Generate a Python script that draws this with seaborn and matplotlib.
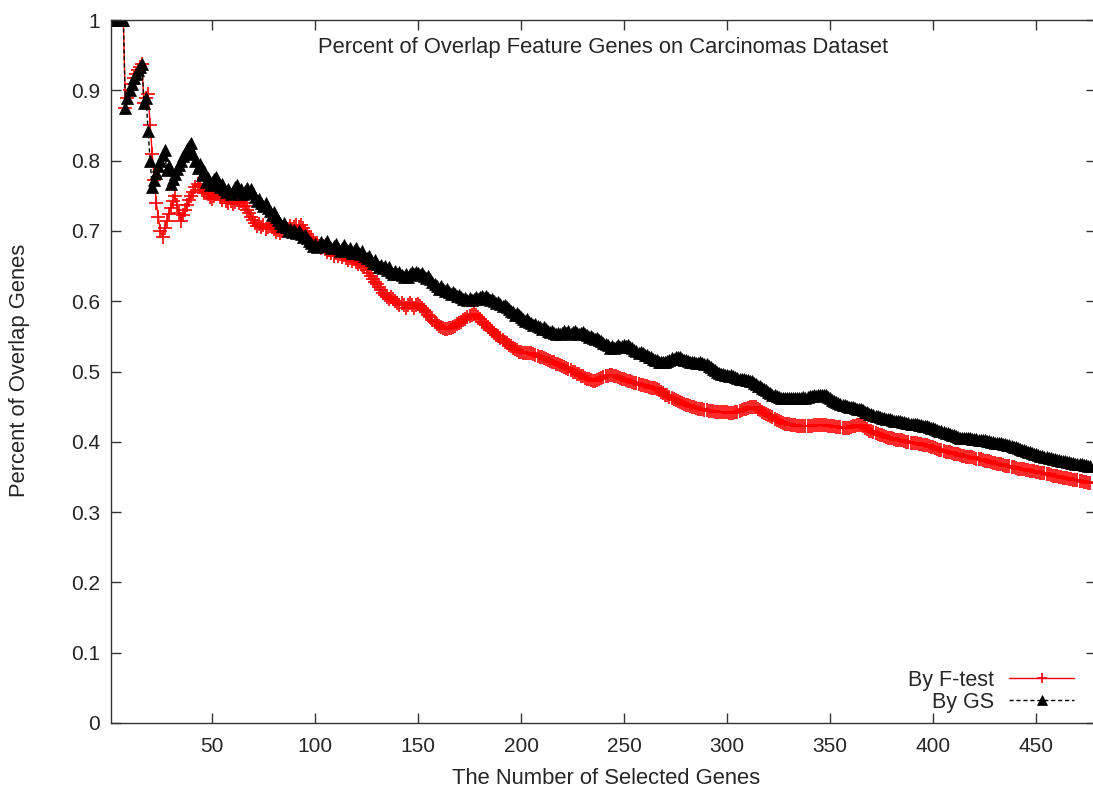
import numpy as np
import matplotlib
matplotlib.use("Agg")
import matplotlib.pyplot as plt
import seaborn as sns

title = "Percent of Overlap Feature Genes on Carcinomas Dataset"
xlabel = "The Number of Selected Genes"
ylabel = "Percent of Overlap Genes"
label_ft = "By F-test"
label_gs = "By GS"
xticks = [50, 100, 150, 200, 250, 300, 350, 400, 450]
yticks = [0, 0.1, 0.2, 0.3, 0.4, 0.5, 0.6, 0.7, 0.8, 0.9, 1]
ytick_labels = ["0", "0.1", "0.2", "0.3", "0.4", "0.5", "0.6", "0.7", "0.8", "0.9", "1"]

# By GS, overlap fraction for n = 1, 2, 3, ...
gs = [
    1, 1, 1, 1, 1, 1, 1, 0.875, 0.889, 0.9,
    0.909, 0.917, 0.923, 0.929, 0.933, 0.938, 0.882, 0.889, 0.842, 0.8,
    0.762, 0.773, 0.783, 0.792, 0.8, 0.808, 0.815, 0.786, 0.793, 0.767,
    0.774, 0.781, 0.788, 0.794, 0.8, 0.806, 0.811, 0.816, 0.821, 0.825,
    0.81, 0.8, 0.79, 0.795, 0.78, 0.785, 0.77, 0.775, 0.765, 0.77,
    0.774, 0.777, 0.77, 0.762, 0.767, 0.759, 0.755, 0.76, 0.752, 0.757,
    0.762, 0.766, 0.756, 0.76, 0.752, 0.757, 0.761, 0.755, 0.759, 0.754,
    0.748, 0.742, 0.746, 0.74, 0.735, 0.739, 0.733, 0.728, 0.723, 0.727,
    0.72, 0.716, 0.711, 0.707, 0.711, 0.705, 0.7, 0.703, 0.698, 0.701,
    0.697, 0.7, 0.695, 0.691, 0.694, 0.69, 0.686, 0.683, 0.679, 0.682,
    0.677, 0.68, 0.684, 0.678, 0.681, 0.685, 0.679, 0.675, 0.678, 0.682,
    0.676, 0.672, 0.676, 0.68, 0.674, 0.671, 0.675, 0.669, 0.672, 0.676,
    0.67, 0.667, 0.671, 0.665, 0.661, 0.665, 0.659, 0.655, 0.659, 0.653,
    0.649, 0.652, 0.647, 0.65, 0.645, 0.648, 0.642, 0.639, 0.643, 0.638,
    0.642, 0.637, 0.634, 0.638, 0.635, 0.639, 0.641, 0.638, 0.642, 0.64,
    0.637, 0.64, 0.636, 0.633, 0.636, 0.632, 0.628, 0.625, 0.621, 0.618,
    0.621, 0.617, 0.614, 0.617, 0.613, 0.61, 0.613, 0.61, 0.607, 0.609,
    0.606, 0.603, 0.605, 0.602, 0.604, 0.601, 0.603, 0.606, 0.603, 0.606,
    0.608, 0.605, 0.607, 0.604, 0.601, 0.603, 0.6, 0.597, 0.599, 0.596,
    0.593, 0.595, 0.592, 0.589, 0.586, 0.584, 0.581, 0.583, 0.58, 0.577,
    0.575, 0.572, 0.574, 0.571, 0.569, 0.566, 0.568, 0.565, 0.563, 0.561,
    0.563, 0.56, 0.558, 0.556, 0.558, 0.555, 0.553, 0.555, 0.553, 0.555,
    0.557, 0.555, 0.557, 0.554, 0.556, 0.558, 0.555, 0.553, 0.555, 0.556,
    0.554, 0.552, 0.549, 0.551, 0.548, 0.546, 0.548, 0.545, 0.543, 0.541,
    0.539, 0.537, 0.534, 0.536, 0.533, 0.535, 0.537, 0.535, 0.536, 0.538,
    0.536, 0.537, 0.535, 0.533, 0.531, 0.529, 0.527, 0.528, 0.526, 0.524,
    0.523, 0.521, 0.52, 0.518, 0.517, 0.516, 0.514, 0.513, 0.513, 0.514,
    0.515, 0.517, 0.519, 0.518, 0.52, 0.521, 0.52, 0.518, 0.517, 0.516,
    0.515, 0.514, 0.514, 0.513, 0.512, 0.512, 0.513, 0.512, 0.511, 0.51,
    0.508, 0.506, 0.504, 0.502, 0.5, 0.498, 0.497, 0.496, 0.495, 0.495,
    0.494, 0.495, 0.493, 0.492, 0.491, 0.49, 0.49, 0.489, 0.488, 0.488,
    0.487, 0.486, 0.484, 0.482, 0.48, 0.479, 0.477, 0.475, 0.473, 0.471,
    0.469, 0.467, 0.466, 0.465, 0.464, 0.463, 0.463, 0.462, 0.462, 0.462,
    0.462, 0.462, 0.463, 0.463, 0.462, 0.463, 0.464, 0.463, 0.464, 0.465,
    0.465, 0.466, 0.465, 0.466, 0.467, 0.466, 0.467, 0.466, 0.464, 0.462,
    0.46, 0.458, 0.457, 0.455, 0.454, 0.453, 0.452, 0.451, 0.45, 0.449,
    0.449, 0.448, 0.447, 0.446, 0.446, 0.445, 0.443, 0.442, 0.44, 0.439,
    0.438, 0.437, 0.436, 0.435, 0.434, 0.434, 0.433, 0.432, 0.432, 0.431,
    0.43, 0.43, 0.429, 0.429, 0.428, 0.428, 0.427, 0.427, 0.426, 0.426,
    0.425, 0.425, 0.424, 0.424, 0.423, 0.423, 0.422, 0.421, 0.42, 0.419,
    0.418, 0.417, 0.416, 0.415, 0.414, 0.413, 0.412, 0.411, 0.41, 0.409,
    0.408, 0.407, 0.406, 0.406, 0.406, 0.405, 0.405, 0.405, 0.404, 0.404,
    0.404, 0.403, 0.403, 0.402, 0.402, 0.401, 0.401, 0.4, 0.4, 0.399,
    0.399, 0.398, 0.398, 0.397, 0.397, 0.396, 0.395, 0.394, 0.393, 0.392,
    0.391, 0.39, 0.389, 0.388, 0.387, 0.386, 0.385, 0.384, 0.383, 0.382,
    0.381, 0.38, 0.38, 0.379, 0.378, 0.377, 0.377, 0.376, 0.375, 0.374,
    0.374, 0.373, 0.372, 0.372, 0.371, 0.371, 0.37, 0.37, 0.369, 0.369,
    0.368, 0.368, 0.367, 0.367, 0.366, 0.366,
]

# By F-test, overlap fraction for n = 1, 2, 3, ...
ft = [
    1, 1, 1, 1, 1, 1, 1, 0.875, 0.889, 0.9,
    0.909, 0.917, 0.923, 0.929, 0.933, 0.938, 0.882, 0.889, 0.895, 0.85,
    0.81, 0.773, 0.739, 0.72, 0.7, 0.692, 0.704, 0.714, 0.724, 0.733,
    0.742, 0.75, 0.737, 0.725, 0.714, 0.722, 0.73, 0.737, 0.744, 0.75,
    0.756, 0.762, 0.767, 0.764, 0.758, 0.754, 0.757, 0.752, 0.748, 0.745,
    0.75, 0.752, 0.755, 0.748, 0.744, 0.748, 0.742, 0.739, 0.742, 0.738,
    0.741, 0.744, 0.74, 0.743, 0.739, 0.735, 0.73, 0.726, 0.72, 0.716,
    0.711, 0.707, 0.71, 0.705, 0.708, 0.703, 0.706, 0.71, 0.706, 0.702,
    0.698, 0.701, 0.697, 0.7, 0.704, 0.7, 0.703, 0.707, 0.703, 0.706,
    0.709, 0.705, 0.708, 0.704, 0.7, 0.696, 0.692, 0.688, 0.684, 0.68,
    0.683, 0.679, 0.675, 0.678, 0.674, 0.67, 0.673, 0.669, 0.665, 0.668,
    0.664, 0.667, 0.663, 0.666, 0.662, 0.658, 0.661, 0.657, 0.66, 0.656,
    0.653, 0.656, 0.652, 0.648, 0.644, 0.64, 0.636, 0.632, 0.628, 0.624,
    0.62, 0.616, 0.612, 0.609, 0.606, 0.603, 0.606, 0.603, 0.6, 0.597,
    0.594, 0.597, 0.594, 0.591, 0.594, 0.597, 0.594, 0.591, 0.594, 0.596,
    0.593, 0.59, 0.587, 0.584, 0.58, 0.577, 0.573, 0.57, 0.567, 0.565,
    0.563, 0.562, 0.561, 0.561, 0.562, 0.562, 0.563, 0.565, 0.567, 0.569,
    0.571, 0.573, 0.575, 0.577, 0.579, 0.581, 0.582, 0.58, 0.577, 0.574,
    0.571, 0.568, 0.566, 0.563, 0.56, 0.558, 0.555, 0.552, 0.55, 0.547,
    0.545, 0.542, 0.54, 0.538, 0.536, 0.534, 0.532, 0.53, 0.528, 0.528,
    0.527, 0.527, 0.526, 0.526, 0.526, 0.525, 0.524, 0.522, 0.521, 0.52,
    0.519, 0.518, 0.516, 0.515, 0.514, 0.513, 0.511, 0.51, 0.509, 0.508,
    0.506, 0.505, 0.503, 0.502, 0.5, 0.499, 0.497, 0.496, 0.494, 0.493,
    0.491, 0.49, 0.489, 0.488, 0.487, 0.487, 0.488, 0.489, 0.491, 0.492,
    0.493, 0.494, 0.495, 0.495, 0.494, 0.493, 0.492, 0.491, 0.49, 0.489,
    0.488, 0.487, 0.486, 0.485, 0.484, 0.483, 0.482, 0.481, 0.481, 0.48,
    0.479, 0.478, 0.477, 0.477, 0.476, 0.475, 0.473, 0.471, 0.469, 0.467,
    0.466, 0.464, 0.463, 0.461, 0.46, 0.458, 0.457, 0.455, 0.454, 0.453,
    0.452, 0.451, 0.45, 0.449, 0.448, 0.447, 0.446, 0.446, 0.445, 0.445,
    0.444, 0.444, 0.444, 0.443, 0.443, 0.443, 0.443, 0.442, 0.442, 0.442,
    0.441, 0.441, 0.441, 0.442, 0.443, 0.444, 0.445, 0.446, 0.447, 0.448,
    0.449, 0.45, 0.45, 0.449, 0.447, 0.445, 0.443, 0.441, 0.439, 0.438,
    0.436, 0.435, 0.433, 0.431, 0.43, 0.428, 0.427, 0.426, 0.425, 0.425,
    0.424, 0.424, 0.424, 0.423, 0.423, 0.423, 0.423, 0.423, 0.423, 0.423,
    0.423, 0.424, 0.424, 0.424, 0.424, 0.424, 0.424, 0.424, 0.423, 0.423,
    0.422, 0.422, 0.421, 0.421, 0.421, 0.42, 0.42, 0.42, 0.42, 0.421,
    0.422, 0.423, 0.424, 0.424, 0.424, 0.422, 0.42, 0.418, 0.416, 0.415,
    0.414, 0.412, 0.411, 0.41, 0.409, 0.408, 0.407, 0.406, 0.405, 0.405,
    0.404, 0.403, 0.403, 0.402, 0.402, 0.401, 0.4, 0.4, 0.399, 0.399,
    0.398, 0.398, 0.397, 0.397, 0.396, 0.396, 0.395, 0.394, 0.393, 0.392,
    0.391, 0.39, 0.389, 0.388, 0.387, 0.386, 0.386, 0.385, 0.384, 0.383,
    0.383, 0.382, 0.381, 0.38, 0.38, 0.379, 0.379, 0.378, 0.378, 0.377,
    0.376, 0.376, 0.375, 0.374, 0.373, 0.373, 0.372, 0.371, 0.37, 0.37,
    0.369, 0.368, 0.368, 0.367, 0.366, 0.366, 0.365, 0.364, 0.364, 0.363,
    0.362, 0.362, 0.361, 0.361, 0.36, 0.36, 0.359, 0.358, 0.358, 0.357,
    0.357, 0.356, 0.355, 0.355, 0.354, 0.354, 0.353, 0.352, 0.352, 0.351,
    0.35, 0.35, 0.349, 0.349, 0.348, 0.347, 0.347, 0.346, 0.346, 0.345,
    0.344, 0.344, 0.343, 0.343, 0.342, 0.342,
]

n_gs = np.arange(1, len(gs) + 1)
n_ft = np.arange(1, len(ft) + 1)

sns.set_style("ticks")
plt.rcParams["font.family"] = ["Liberation Sans", "DejaVu Sans"]
plt.rcParams["font.size"] = 15

fig = plt.figure(figsize=(10.93, 7.89), dpi=100)
W, H = 1093.0, 789.0
left, right, top, bottom = 111, 1096, 20, 723
ax = fig.add_axes([left / W, 1 - bottom / H, (right - left) / W, (bottom - top) / H])

sns.lineplot(x=n_ft, y=ft, ax=ax, color="#ff0000", linewidth=1.0, marker="+",
             markersize=10, markeredgewidth=1.2, markeredgecolor="#ff0000",
             markerfacecolor="#ff0000", label=label_ft, estimator=None)
sns.lineplot(x=n_gs, y=gs, ax=ax, color="black", linewidth=1.0, linestyle=(0, (3, 2)),
             marker="^", markersize=9, markeredgewidth=0.5, markeredgecolor="black",
             markerfacecolor="black", label=label_gs, estimator=None)

ax.set_xlim(1, 479)
ax.set_ylim(0, 1)
ax.set_xticks(xticks)
ax.set_xticklabels([str(t) for t in xticks])
ax.set_yticks(yticks)
ax.set_yticklabels(ytick_labels)
ax.tick_params(axis="both", direction="in", length=7, width=1, color="#333333",
               labelsize=15, top=True, right=True)
ax.tick_params(axis="x", pad=10)
ax.tick_params(axis="y", pad=8)
for s in ax.spines.values():
    s.set_visible(True)
    s.set_linewidth(1)
    s.set_color("#333333")
ax.set_xlabel("")
ax.set_ylabel("")

ax.text(0.5, (bottom - 47) / (bottom - top), title, transform=ax.transAxes,
        ha="center", va="center", fontsize=15.8)
fig.text(606 / W, 1 - 778 / H, xlabel, ha="center", va="center", fontsize=15.8)
fig.text(20 / W, 1 - 370 / H, ylabel, ha="center", va="center", rotation=90, fontsize=15.8)

leg = ax.legend(loc="lower right", bbox_to_anchor=(1074 / W, 1 - 713 / H),
                bbox_transform=fig.transFigure, frameon=False, markerfirst=False,
                handlelength=3.0, handletextpad=0.7, labelspacing=0.05,
                borderpad=0, borderaxespad=0, fontsize=15.5, numpoints=1)
for h in leg.legend_handles:
    h.set_markersize(7)

fig.savefig("out.png", dpi=100)
